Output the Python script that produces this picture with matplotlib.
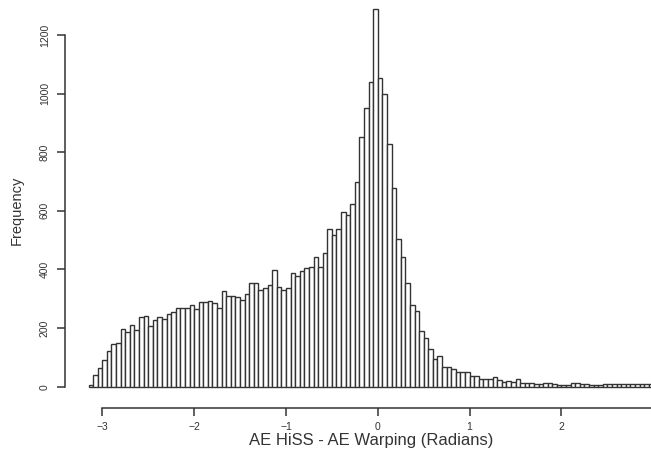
import matplotlib
matplotlib.use("Agg")
import matplotlib.pyplot as plt
import numpy as np

plt.rcParams['font.family'] = ['Liberation Sans', 'DejaVu Sans']

# histogram of phase differences, bins of 0.05 rad starting at -3.15
bin_start = -3.15
bin_width = 0.05
counts = [
    5, 40, 65, 91, 121, 146, 150, 198, 187, 212, 195, 238, 240, 206, 227, 236,
    231, 248, 255, 268, 270, 270, 279, 264, 290, 290, 293, 285, 268, 325, 309,
    309, 307, 296, 317, 353, 353,
    330, 338, 348, 398, 341, 331, 336, 388, 379, 396, 405, 407, 444, 409, 455,
    537, 516, 537, 597, 587, 624, 697,
    850, 950, 1040, 1290, 1052, 998, 828,
    679, 505, 443, 354, 280, 259, 190, 165, 128, 96, 104, 68, 67, 59, 51, 51, 51,
    36, 36, 25, 25, 25, 32, 23, 17, 20, 17, 27, 14, 14, 12, 10, 8, 14, 14, 10,
    7, 5, 5, 12, 12, 9, 9, 7, 7, 7, 9, 9, 9, 9, 9, 9, 9, 9,
    8, 8, 8, 7, 7, 6,
]
x_ticks = [-3, -2, -1, 0, 1, 2]
y_ticks = [0, 200, 400, 600, 800, 1000, 1200]
x_label = "AE HiSS - AE Warping (Radians)"
y_label = "Frequency"

ink = "#333333"
W, H = 651, 458

fig = plt.figure(figsize=(W / 100, H / 100), dpi=100)
fig.patch.set_facecolor("white")

# axes placed in pixel terms so the detached R-style axes line up
left_px, bottom_px, top_px = 65, 50, 458
ax_w_px = 625.6
ax = fig.add_axes([left_px / W, bottom_px / H, ax_w_px / W, (top_px - bottom_px) / H])

edges = bin_start + bin_width * np.arange(len(counts))
ax.bar(edges, counts, width=bin_width, align='edge',
       facecolor='white', edgecolor=ink, linewidth=1.0)

ax.set_xlim(-3.406, 3.406)
ax.set_ylim(-72.7, 1319)

for s in ['top', 'right']:
    ax.spines[s].set_visible(False)
for s in ['left', 'bottom']:
    ax.spines[s].set_color(ink)
    ax.spines[s].set_linewidth(1.1)
ax.spines['left'].set_bounds(0, 1200)
ax.spines['bottom'].set_bounds(-3, 3)

ax.set_xticks(x_ticks)
ax.set_yticks(y_ticks)
ax.set_xticklabels([str(t).replace('-', '\u2212') for t in x_ticks])
ax.set_yticklabels([str(t) for t in y_ticks], rotation=90, va='center')
ax.tick_params(axis='both', colors=ink, labelcolor=ink, length=6, width=1.1,
               labelsize=7.5)
ax.tick_params(axis='x', pad=4)
ax.tick_params(axis='y', pad=5)

fig.text(0.5 * (249 + 494) / W, 1 - 440 / H, x_label, ha='center', va='center',
         fontsize=12, color=ink)
fig.text(17 / W, 1 - 210 / H, y_label, ha='center', va='center',
         rotation=90, fontsize=10.5, color=ink)

fig.savefig("out.png", dpi=100, facecolor="white")
